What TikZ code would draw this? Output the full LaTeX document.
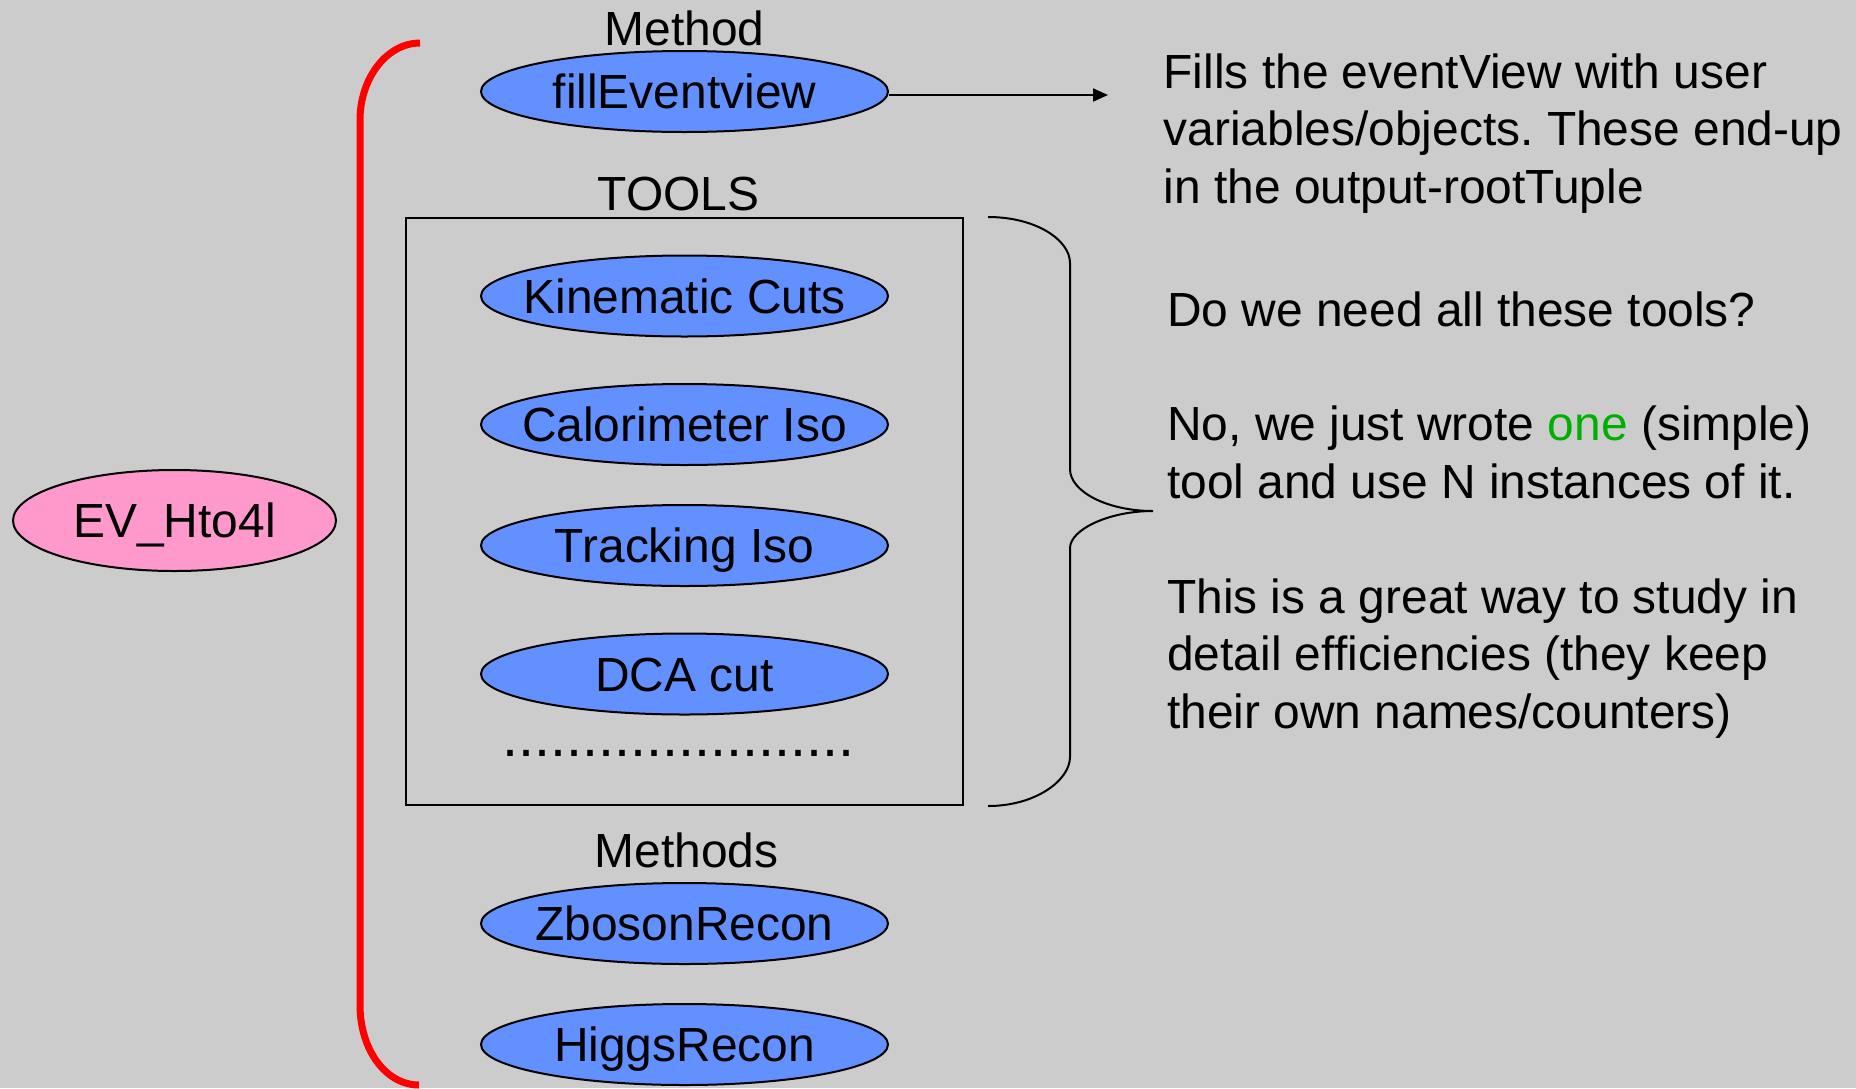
\documentclass[tikz,border=0pt]{standalone}
\usepackage{fontspec}
\setmainfont{Liberation Sans}[Ligatures=NoCommon]
\usetikzlibrary{positioning,shapes.geometric,arrows.meta}
\definecolor{slidegray}{RGB}{204,204,204}
\definecolor{toolblue}{RGB}{98,145,255}
\definecolor{mainpink}{RGB}{255,153,204}
\definecolor{onegreen}{RGB}{0,176,0}
\newcommand{\ctext}[1]{\makebox[0pt]{#1}}
\frenchspacing

\begin{document}
\begin{tikzpicture}[x=1pt,y=-1pt,
			every node/.style={font=\fontsize{47.9}{57.5}\selectfont,inner sep=0pt},
			lbl/.style={text height=34pt,text depth=0pt},
			tool/.style={ellipse,draw,line width=2pt,fill=toolblue,lbl,
				minimum width=407pt,minimum height=81pt},
			evbox/.style={ellipse,draw,line width=2pt,fill=mainpink,lbl,
				minimum width=323pt,minimum height=101pt}]
			\useasboundingbox (0,0) rectangle (1856,1088);
			\fill[slidegray] (0,0) rectangle (1856,1088);

			\node (ev) [evbox] at (174.5,520.5) {\ctext{EV\_Hto4l}};

			% methods and tools
			\node (fill) [tool] at (684.5,91.5) {\ctext{fillEventview}};
			\node (toolbox) [draw,line width=2pt,minimum width=557pt,minimum height=587pt] at (684.5,511.5) {};
			\node (kin) [tool] at (684.5,296) {\ctext{Kinematic Cuts}};
			\node (calo) [tool] at (684.5,424.5) {\ctext{Calorimeter Iso}};
			\node (trk) [tool] at (684.5,545.5) {\ctext{Tracking Iso}};
			\node (dca) [tool] at (684.5,674) {\ctext{DCA cut}};
			\node (dots) [font=\fontsize{57.5}{60}\selectfont,anchor=base] at (678.5,756.5) {......................};
			\node (zrec) [tool] at (684.5,923.5) {\ctext{ZbosonRecon}};
			\node (hrec) [tool] at (684.5,1044.5) {\ctext{HiggsRecon}};

			\node (methodlbl) [lbl,above=4pt of fill] {Method};
			\node (toolslbl) [lbl,above=6pt of toolbox,xshift=-6pt] {TOOLS};
			\node (methodslbl) [lbl,above=14pt of zrec,xshift=2pt] {Methods};

			% red bracket
			\draw[red,line width=7pt] (420,43) .. controls (387,43) and (360,78) .. (360,120)
				-- (360,1005) .. controls (360,1050) and (386,1085) .. (419,1085);

			% black brace
			\draw[line width=2pt] (988,217) .. controls (1036,217) and (1070,240) .. (1070,263)
				-- (1070,469) .. controls (1070,492) and (1108,511) .. (1153,511)
				.. controls (1108,511) and (1070,530) .. (1070,548)
				-- (1070,757) .. controls (1070,780) and (1036,806) .. (988,806);

			\coordinate (fillend) at (1108,95);
			\draw[line width=2pt,-{Triangle[length=15pt,width=13pt]}] ([yshift=-3.5pt]fill.east) -- (fillend);

			% notes (base = last line)
			\node (fillnote) [anchor=base west,align=left] at (1163.5,203)
				{Fills the eventView with user\\variables/objects. These end-up\\in the output-rootTuple};
			\node (question) [anchor=base west] at (1167,326) {Do we need all these tools?};
			\node (answer) [anchor=base west,align=left] at (1167,498)
				{No, we just wrote \textcolor{onegreen}{one} (simple)\\tool and use N instances of it.};
			\node (remark) [anchor=base west,align=left] at (1167,728)
				{This is a great way to study in\\detail efficiencies (they keep\\their own names/counters)};
		\end{tikzpicture}
\end{document}
